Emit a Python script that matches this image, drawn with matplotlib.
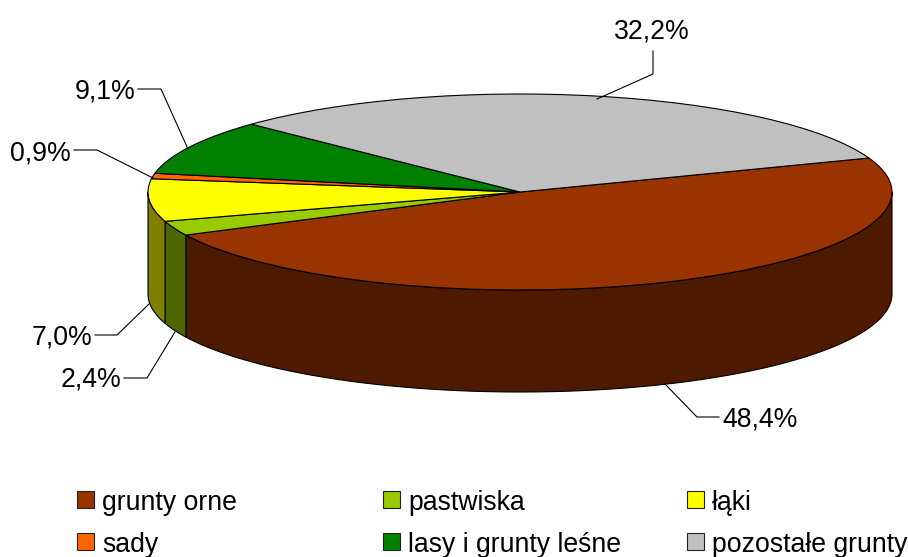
import numpy as np
import matplotlib
matplotlib.use("Agg")
import matplotlib.pyplot as plt
from matplotlib.patches import Rectangle, Polygon

categories = ["grunty orne", "pastwiska", "łąki", "sady", "lasy i grunty leśne", "pozostałe grunty"]
shares = [48.4, 2.4, 7.0, 0.9, 9.1, 32.2]
labels = ["48,4%", "2,4%", "7,0%", "0,9%", "9,1%", "32,2%"]
top_colors = ["#993300", "#99CC00", "#FFFF00", "#FF6600", "#008000", "#C0C0C0"]
side_colors = ["#4D1A00", "#4D6600", "#808000", "#803300", "#004000", "#606060"]

W, H = 908, 557
START = 20.3
CX, CY, RX, RY, DEPTH = 520, 192, 372, 98, 102
LW = 0.8
FS = 19.2

plt.rcParams["font.family"] = ["Liberation Sans", "DejaVu Sans"]
fig = plt.figure(figsize=(W / 100, H / 100), dpi=100)

# Pixel overlay for leaders, labels and legend
ov = fig.add_axes([0, 0, 1, 1], zorder=3)
ov.set_xlim(0, W)
ov.set_ylim(H, 0)
ov.axis("off")
ov.patch.set_alpha(0)

# Pie axes: unit circle fills the ellipse box
ax = fig.add_axes([(CX - RX) / W, 1 - (CY + RY) / H, 2 * RX / W, 2 * RY / H], zorder=2)
ax.pie(shares, colors=top_colors, startangle=START, counterclock=False, radius=1, center=(0, 0),
       wedgeprops=dict(edgecolor="black", linewidth=LW, clip_on=False))
ax.set_aspect("auto")
ax.set_xlim(-1, 1)
ax.set_ylim(-1, 1)
ax.axis("off")

# Side wall: front half of each slice
d = DEPTH / RY
edges = START - np.cumsum([0] + shares) * 3.6
for i in range(len(shares)):
    hi, lo = edges[i], edges[i + 1]
    for shift in (0, -360):
        a = min(hi + shift, 0)
        b = max(lo + shift, -180)
        if a <= b:
            continue
        t = np.radians(np.linspace(a, b, 120))
        x, y = np.cos(t), np.sin(t)
        pts = np.column_stack([np.r_[x, x[::-1]], np.r_[y, y[::-1] - d]])
        ax.add_patch(Polygon(pts, closed=True, facecolor=side_colors[i], edgecolor="black",
                             linewidth=LW, clip_on=False, joinstyle="round", zorder=0))

# Leader lines
leaders = {
    "48,4%": ([665, 697, 719], [384, 417, 417]),
    "2,4%": ([175, 147, 124], [332, 378, 378]),
    "7,0%": ([149, 117, 95], [304, 335, 335]),
    "0,9%": ([153, 97, 74], [178, 150, 150]),
    "9,1%": ([188, 161, 138], [149, 89, 89]),
    "32,2%": ([597, 653, 653], [99, 74, 51]),
}
for xs, ys in leaders.values():
    ov.plot(xs, ys, color="black", lw=LW, solid_joinstyle="miter")

# Percent labels
label_pos = {
    "48,4%": (722, 417, "left"), "2,4%": (121, 377, "right"), "7,0%": (92, 334, "right"),
    "0,9%": (71, 150, "right"), "9,1%": (135, 88, "right"), "32,2%": (652, 29, "center"),
}
for k, (x, y, ha) in label_pos.items():
    ov.text(x, y, k, ha=ha, va="center_baseline", fontsize=FS, color="black")

# Legend
col_x = [77, 383, 687]
row_y = [491, 533]
for i, name in enumerate(categories):
    x, y = col_x[i % 3], row_y[i // 3]
    ov.add_patch(Rectangle((x, y), 17, 17, facecolor=top_colors[i], edgecolor="#222222", linewidth=LW))
    ov.text(x + 25, y + 8.5, name, ha="left", va="center_baseline", fontsize=FS, color="black")

fig.savefig("out.png", dpi=100, facecolor="white")
